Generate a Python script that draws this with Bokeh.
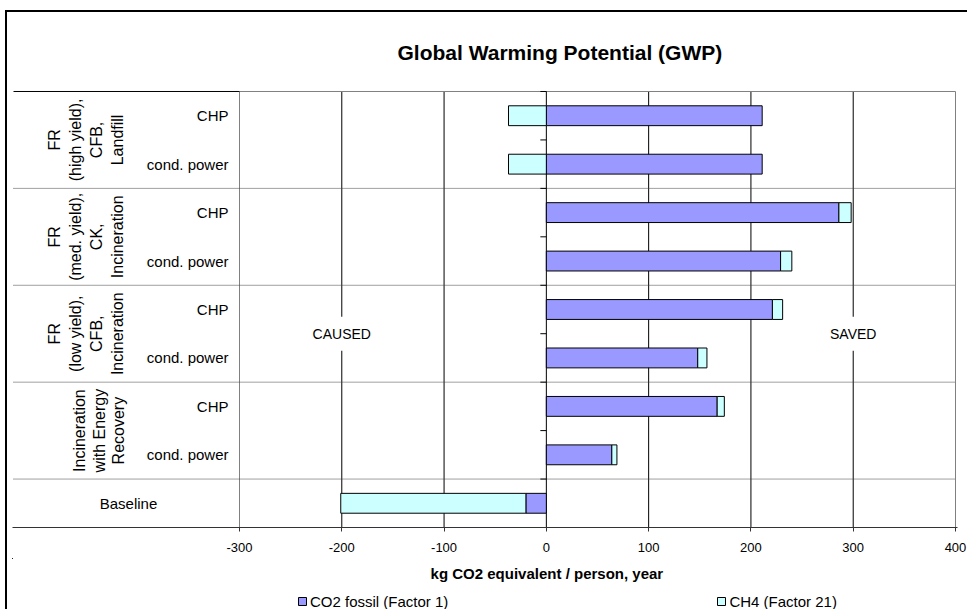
import math
from bokeh.plotting import figure
from bokeh.layouts import column
from bokeh.models import (Range1d, Legend, LegendItem, Label, FixedTicker, ColumnDataSource)
from bokeh.core.properties import value
from bokeh.embed import file_html
from bokeh.resources import INLINE

# ---------------- data ----------------
rows = ["CHP", "cond. power", "CHP", "cond. power", "CHP", "cond. power",
        "CHP", "cond. power", "Baseline"]
groups = [["FR", "(high yield),", "CFB,", "Landfill"],
          ["FR", "(med. yield),", "CK,", "Incineration"],
          ["FR", "(low yield),", "CFB,", "Incineration"],
          ["Incineration", "with Energy", "Recovery"]]
co2 = [211, 211, 286, 229, 221, 148, 167, 64, -20]
ch4 = [-37, -37, 12, 11, 10, 9, 7, 5, -181]
series_names = ["CO2 fossil (Factor 1)", "CH4 (Factor 21)"]
xticks = [-300, -200, -100, 0, 100, 200, 300, 400]
gridvals = [-200, -100, 100, 200, 300]
title_text = "Global Warming Potential (GWP)"
xlabel = "kg CO2 equivalent / person, year"
side_texts = ["CAUSED", "SAVED"]
side_x = [-200, 300]

# ---------------- layout constants (page pixels) ----------------
FONT = "Liberation Sans"
OX, OY = 7, 12                 # outer frame corner
X_MIN, X_MAX = -300, 400
FRAME_L, FRAME_R = 12, 957
PLOT_L, PLOT_R = 239, 955
FRAME_T, PLOT_T, PLOT_B = 87, 89, 527
SPLIT = 560                    # page y where the lower (legend) strip starts
QOFF = 100000                  # strip coordinates are page px shifted far from the bar data
n = len(rows)

xs = (PLOT_R - PLOT_L) / (X_MAX - X_MIN)
x_start = X_MIN - (PLOT_L - FRAME_L) / xs
x_end = X_MAX + (FRAME_R - PLOT_R) / xs
ys_ = (PLOT_B - PLOT_T) / n
y_end = n + (PLOT_T - FRAME_T) / ys_


def px(xp):
    return x_start + (xp - FRAME_L) / xs


yc = [n - 0.5 - i for i in range(n)]

co2_l = [min(0, v) for v in co2]
co2_r = [max(0, v) for v in co2]
ch4_l, ch4_r = [], []
for c, h in zip(co2, ch4):
    base = c if c * h > 0 else 0
    ch4_l.append(min(base, base + h))
    ch4_r.append(max(base, base + h))

p = figure(width=969 - OX, height=SPLIT - OY,
           min_border_left=FRAME_L - OX, min_border_right=(969 - FRAME_R),
           min_border_top=FRAME_T - OY, min_border_bottom=SPLIT - PLOT_B,
           x_range=Range1d(x_start, x_end), y_range=Range1d(0, y_end),
           output_backend="svg", toolbar_location=None, y_axis_location=None,
           background_fill_color="white", border_fill_color="white",
           margin=(OY - 2, 0, 0, OX - 2),
           styles={"border-left": "2px solid black", "border-top": "2px solid black"})
p.outline_line_color = None
p.xgrid.visible = False
p.ygrid.visible = False

# gridlines
p.segment(x0=gridvals, x1=gridvals, y0=[0] * len(gridvals), y1=[n] * len(gridvals),
          line_color="#000000", line_width=1)

# texts with white background
for t, xv in zip(side_texts, side_x):
    p.add_layout(Label(x=xv, y=n / 2 - 0.5, text=t, text_align="center", text_baseline="middle",
                       text_font=FONT, text_font_size="14px", text_color="black",
                       background_fill_color="white", padding=9))

# plot border (gray)
p.segment(x0=[X_MIN, X_MAX, X_MIN], x1=[X_MIN, X_MAX, X_MAX], y0=[0, 0, n], y1=[n, n, n],
          line_color="#808080", line_width=1)
# table top line
p.segment(x0=[px(13)], x1=[X_MIN], y0=[n], y1=[n], line_color="black", line_width=1)
# group separators (dotted)
seps = [7, 5, 3, 1]
p.segment(x0=[px(13)] * len(seps), x1=[X_MAX] * len(seps), y0=seps, y1=seps,
          line_color="#404040", line_width=1, line_dash="1 1")

# zero axis + ticks
p.segment(x0=[0], x1=[0], y0=[0], y1=[n], line_color="black", line_width=1)
tb = list(range(n + 1))
p.segment(x0=[-6 / xs] * len(tb), x1=[0] * len(tb), y0=tb, y1=tb, line_color="black", line_width=1)

# bars
src = ColumnDataSource(dict(y=yc, co2_l=co2_l, co2_r=co2_r, ch4_l=ch4_l, ch4_r=ch4_r))
bar_co2 = dict(fill_color="#9999FF", line_color="black", line_width=1)
bar_ch4 = dict(fill_color="#CCFFFF", line_color="black", line_width=1)
p.hbar(y="y", left="co2_l", right="co2_r", height=0.41, source=src, **bar_co2)
p.hbar(y="y", left="ch4_l", right="ch4_r", height=0.41, source=src, **bar_ch4)

# row labels
lab_x = [px(228) if r != "Baseline" else px(128) for r in rows]
lab_al = ["right" if r != "Baseline" else "center" for r in rows]
p.text(x=lab_x, y=yc, text=rows, text_align=lab_al, text_baseline="middle",
       text_font=value(FONT), text_font_size="15px", text_color="black")

# group labels (rotated)
gx, gy, gt = [], [], []
for k, g in enumerate(groups):
    pos = [54, 75, 96, 117] if len(g) == 4 else [79, 99, 118]
    for line, xp in zip(g, pos):
        gx.append(px(xp))
        gy.append(n - 1 - 2 * k)
        gt.append(line)
p.text(x=gx, y=gy, text=gt, angle=math.pi / 2, text_align="center", text_baseline="middle",
       text_font=value(FONT), text_font_size="16px", text_color="black")

# x axis
ax = p.xaxis[0]
ax.ticker = FixedTicker(ticks=xticks)
ax.major_label_overrides = {t: str(t) for t in xticks}
ax.minor_tick_line_color = None
ax.major_tick_in = 0
ax.major_tick_out = 4
ax.axis_line_color = "#333333"
ax.major_tick_line_color = "#333333"
ax.major_label_text_font = FONT
ax.major_label_text_font_size = "13px"
ax.major_label_text_color = "black"
ax.major_label_standoff = 11

# title
p.title.text = title_text
p.title.align = "left"
p.title.text_font = FONT
p.title.text_font_size = "21px"
p.title.text_font_style = "bold"
p.title.text_color = "black"
p.title.offset = 385
p.title.standoff = 52

# ---------------- lower strip: axis title + legend ----------------
q = figure(width=969 - OX, height=611 - SPLIT,
           min_border_left=0, min_border_right=0, min_border_top=0, min_border_bottom=0,
           x_range=Range1d(QOFF + OX, QOFF + 969), y_range=Range1d(QOFF + 611, QOFF + SPLIT),
           output_backend="svg", toolbar_location=None,
           x_axis_location=None, y_axis_location=None,
           background_fill_color="white", border_fill_color="white",
           margin=(0, 0, 0, OX - 2), styles={"border-left": "2px solid black"})
q.outline_line_color = None
q.xgrid.visible = False
q.ygrid.visible = False
q.text(x=[QOFF + 551], y=[QOFF + 575], text=[xlabel], text_align="center", text_baseline="middle",
       text_font=value(FONT), text_font_size="15px", text_font_style="bold", text_color="black")
# same series renderers (their data lie far outside this strip's ranges) to carry the legend
q1 = q.hbar(y="y", left="co2_l", right="co2_r", height=0.41, source=src, **bar_co2)
q2 = q.hbar(y="y", left="ch4_l", right="ch4_r", height=0.41, source=src, **bar_ch4)
legend = Legend(items=[LegendItem(label=series_names[0], renderers=[q1]),
                       LegendItem(label=series_names[1], renderers=[q2])],
                orientation="horizontal", location=(285, -2),
                glyph_width=10, glyph_height=10, label_standoff=3, spacing=268,
                label_height=20, padding=0, margin=0, border_line_color=None,
                background_fill_alpha=0, label_text_color="black",
                label_text_font=FONT, label_text_font_size="15px")
q.add_layout(legend, "center")

layout = column(p, q, spacing=0)
open("out.html", "w").write(file_html(layout, INLINE))
